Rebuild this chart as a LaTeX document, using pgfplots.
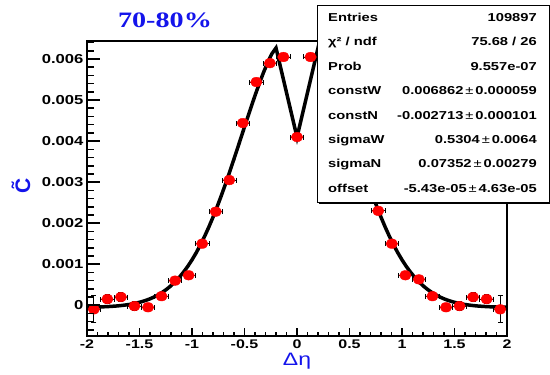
\documentclass[border=0pt]{standalone}
\usepackage{pgfplots}
\pgfplotsset{compat=1.18}
\usepackage{pgfplotstable}
\usepackage{fontspec}
\setmainfont{Liberation Sans}[FakeStretch=1.28]
\newfontfamily\titlefont{Liberation Serif}[FakeStretch=1.28]
\newfontfamily\plainfont{Liberation Sans}
\definecolor{rootblue}{RGB}{20,20,235}

\pgfplotstableread{
x y ex ey
-1.935 -0.00010 0.0645 0.00033
-1.806 0.00015 0.0645 0.00011
-1.677 0.00020 0.0645 0.00011
-1.548 -0.00002 0.0645 0.00011
-1.419 -0.00005 0.0645 0.00006
-1.290 0.00022 0.0645 0.00005
-1.161 0.00060 0.0645 0.00005
-1.032 0.00073 0.0645 0.00005
-0.903 0.00150 0.0645 0.00005
-0.774 0.00228 0.0645 0.00005
-0.645 0.00305 0.0645 0.00005
-0.516 0.00444 0.0645 0.00005
-0.387 0.00544 0.0645 0.00005
-0.258 0.00590 0.0645 0.00005
-0.129 0.00605 0.0645 0.00005
0.000 0.00410 0.0645 0.00005
0.129 0.00605 0.0645 0.00005
0.258 0.00590 0.0645 0.00005
0.387 0.00544 0.0645 0.00005
0.516 0.00444 0.0645 0.00005
0.645 0.00305 0.0645 0.00005
0.774 0.00230 0.0645 0.00005
0.903 0.00150 0.0645 0.00005
1.032 0.00073 0.0645 0.00005
1.161 0.00063 0.0645 0.00005
1.290 0.00022 0.0645 0.00005
1.419 -0.00005 0.0645 0.00006
1.548 -0.00002 0.0645 0.00011
1.677 0.00020 0.0645 0.00011
1.806 0.00015 0.0645 0.00011
1.935 -0.00010 0.0645 0.00033
}\datatable

\pgfplotstableread{
x y
-2.00 -0.0000487
-1.96 -0.0000469
-1.92 -0.0000445
-1.88 -0.0000415
-1.84 -0.0000376
-1.80 -0.0000326
-1.76 -0.0000264
-1.72 -0.0000186
-1.68 -0.0000088
-1.64 0.0000033
-1.60 0.0000182
-1.56 0.0000365
-1.52 0.0000587
-1.48 0.0000855
-1.44 0.000118
-1.40 0.000156
-1.36 0.000202
-1.32 0.000256
-1.28 0.000319
-1.24 0.000392
-1.20 0.000476
-1.16 0.000574
-1.12 0.000684
-1.08 0.000809
-1.04 0.000949
-1.00 0.001106
-0.96 0.001279
-0.92 0.001470
-0.88 0.001679
-0.84 0.001904
-0.80 0.002146
-0.76 0.002404
-0.72 0.002677
-0.68 0.002963
-0.64 0.003259
-0.60 0.003565
-0.56 0.003876
-0.52 0.004190
-0.48 0.004502
-0.44 0.004810
-0.40 0.005110
-0.36 0.005396
-0.32 0.005666
-0.28 0.005913
-0.24 0.006127
-0.20 0.006270
0.00 0.004095
0.20 0.006270
0.24 0.006127
0.28 0.005913
0.32 0.005666
0.36 0.005396
0.40 0.005110
0.44 0.004810
0.48 0.004502
0.52 0.004190
0.56 0.003876
0.60 0.003565
0.64 0.003259
0.68 0.002963
0.72 0.002677
0.76 0.002404
0.80 0.002146
0.84 0.001904
0.88 0.001679
0.92 0.001470
0.96 0.001279
1.00 0.001106
1.04 0.000949
1.08 0.000809
1.12 0.000684
1.16 0.000574
1.20 0.000476
1.24 0.000392
1.28 0.000319
1.32 0.000256
1.36 0.000202
1.40 0.000156
1.44 0.000118
1.48 0.0000855
1.52 0.0000587
1.56 0.0000365
1.60 0.0000182
1.64 0.0000033
1.68 -0.0000088
1.72 -0.0000186
1.76 -0.0000264
1.80 -0.0000326
1.84 -0.0000376
1.88 -0.0000415
1.92 -0.0000445
1.96 -0.0000469
2.00 -0.0000487
}\fittable

\begin{document}
\begin{tikzpicture}[x=1bp,y=1bp]
\useasboundingbox (0,0) rectangle (550,374);
\pgfplotsset{rootaxis/.style={
  at={(87bp,38bp)}, anchor=south west, scale only axis,
  width=420bp, height=295bp,
  xmin=-2, xmax=2, ymin=-0.00075, ymax=0.00644,
  axis line style={line width=2.2bp},
  tick align=inside, xtick pos=bottom, ytick pos=left,
  every tick/.style={black, line width=1.6bp},
  scaled y ticks=false, scaled x ticks=false, clip=false,
}}
\begin{axis}[rootaxis,
  ytick=\empty,
  xtick={-2,-1.5,-1,-0.5,0,0.5,1,1.5,2},
  xticklabels={-2,-1.5,-1,-0.5,0,0.5,1,1.5,2},
  minor xtick={-1.9,-1.8,-1.7,-1.6,-1.4,-1.3,-1.2,-1.1,-0.9,-0.8,-0.7,-0.6,-0.4,-0.3,-0.2,-0.1,0.1,0.2,0.3,0.4,0.6,0.7,0.8,0.9,1.1,1.2,1.3,1.4,1.6,1.7,1.8,1.9},
  major tick length=8bp, minor tick length=4bp,
  x tick label style={font=\fontsize{12.5bp}{14bp}\selectfont\bfseries},
]
\addplot[only marks, mark=*, mark size=4.8bp,
  mark options={fill=red, draw=red, xscale=1.2},
  error bars/.cd, x dir=both, x explicit, y dir=both, y explicit,
  error bar style={black, line width=0.8bp},
  error mark options={rotate=90, black, mark size=2.5bp, line width=0.8bp}]
  table[x=x, y=y, x error=ex, y error=ey] {\datatable};
\addplot[black, line width=3.5bp, sharp plot, no marks] table[x=x, y=y] {\fittable};
\end{axis}
\begin{axis}[rootaxis,
  xtick=\empty,
  ytick={0,0.001,0.002,0.003,0.004,0.005,0.006},
  yticklabels={0,0.001,0.002,0.003,0.004,0.005,0.006},
  minor ytick={-0.0006,-0.0004,-0.0002,0.0002,0.0004,0.0006,0.0008,0.0012,0.0014,0.0016,0.0018,0.0022,0.0024,0.0026,0.0028,0.0032,0.0034,0.0036,0.0038,0.0042,0.0044,0.0046,0.0048,0.0052,0.0054,0.0056,0.0058,0.0062,0.0064},
  major tick length=13bp, minor tick length=6.5bp,
  y tick label style={font=\fontsize{13bp}{15bp}\selectfont\bfseries},
]
\end{axis}
% title and axis labels
\node[anchor=base, text=rootblue, inner sep=0] at (165,347) {\titlefont\fontsize{22bp}{24bp}\selectfont\bfseries 70-80\%};
\node[anchor=base, text=rootblue, inner sep=0] at (297,9) {\fontsize{18bp}{20bp}\selectfont Δη};
\node[text=rootblue, inner sep=0, rotate=90] at (21,188) {\plainfont\fontsize{21bp}{23bp}\selectfont\bfseries \~{C}};
% stats box
\fill[black] (319,170) rectangle (552,367);
\filldraw[fill=white, draw=black, line width=0.8bp] (317,172) rectangle (549,369);
\begin{scope}[every node/.style={inner sep=0, font=\fontsize{11.5bp}{13bp}\selectfont\bfseries}]
\node[anchor=base west] at (328,352.5) {Entries};
\node[anchor=base east] at (537,352.5) {109897};
\node[anchor=base west] at (328,328.1) {χ² / ndf};
\node[anchor=base east] at (537,328.1) {75.68 / 26};
\node[anchor=base west] at (328,303.7) {Prob};
\node[anchor=base east] at (537,303.7) {9.557e-07};
\node[anchor=base west] at (328,279.3) {constW};
\node[anchor=base east] at (537,279.3) {0.006862\,{\mdseries ±}\,0.000059};
\node[anchor=base west] at (328,254.9) {constN};
\node[anchor=base east] at (537,254.9) {-0.002713\,{\mdseries ±}\,0.000101};
\node[anchor=base west] at (328,230.5) {sigmaW};
\node[anchor=base east] at (537,230.5) {0.5304\,{\mdseries ±}\,0.0064};
\node[anchor=base west] at (328,206.1) {sigmaN};
\node[anchor=base east] at (537,206.1) {0.07352\,{\mdseries ±}\,0.00279};
\node[anchor=base west] at (328,181.7) {offset};
\node[anchor=base east] at (537,181.7) {-5.43e-05\,{\mdseries ±}\,4.63e-05};
\end{scope}
\end{tikzpicture}
\end{document}
